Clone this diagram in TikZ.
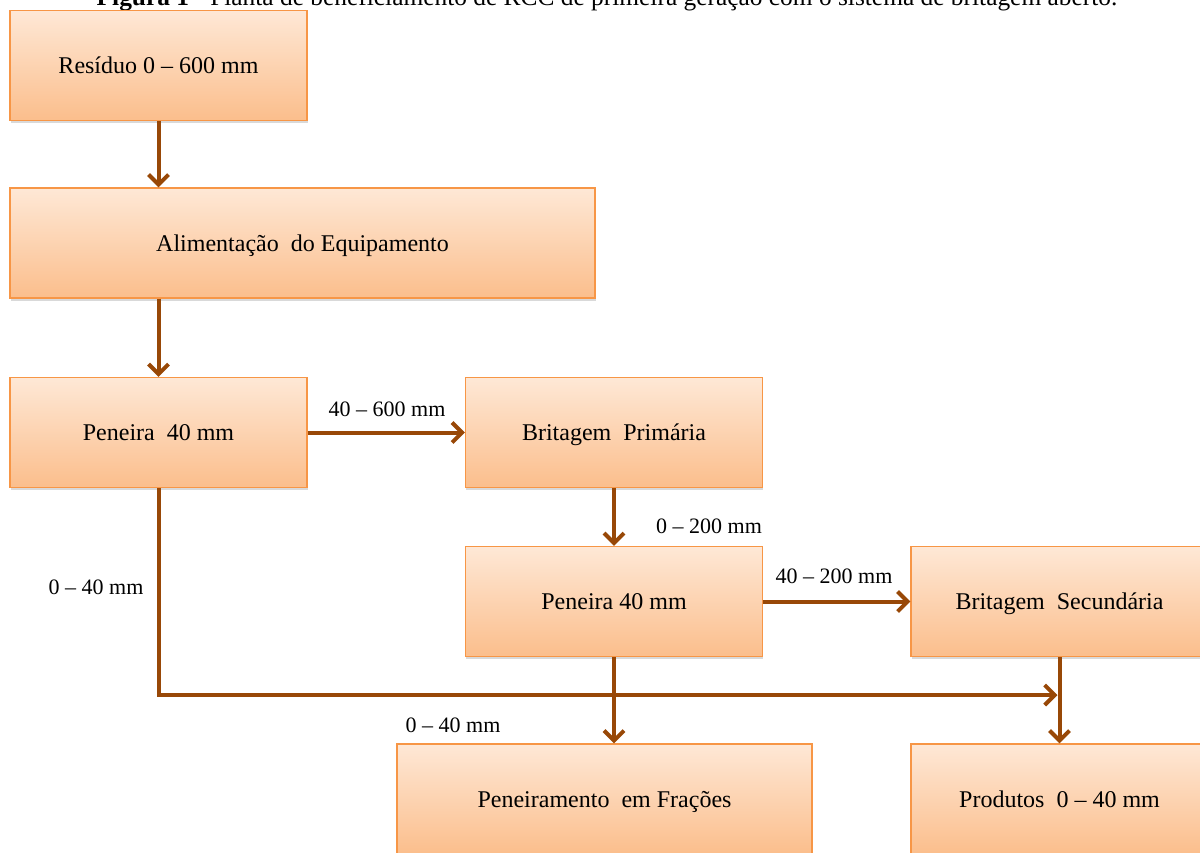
\documentclass[tikz,border=0pt]{standalone}
\usepackage{fontspec}
\setmainfont{Liberation Serif}
\usetikzlibrary{arrows.meta,shadows,calc}
\definecolor{boxline}{RGB}{247,150,70}
\definecolor{boxtop}{RGB}{254,232,214}
\definecolor{boxbot}{RGB}{251,190,140}
\definecolor{arr}{RGB}{152,72,7}
\tikzset{
  flowbox/.style={draw=boxline, line width=0.6pt, top color=boxtop, bottom color=boxbot,
    minimum width=148.5pt, minimum height=55pt, inner sep=0pt,
    text height=9pt, text depth=1pt,
    font=\fontsize{12}{14}\selectfont,
    drop shadow={opacity=0.25, shadow xshift=0.4pt, shadow yshift=-1.4pt, fill=black!60}},
  flowarrow/.style={draw=arr, line width=2pt, -{Straight Barb[length=5pt,width=10pt]}},
  lbl/.style={font=\fontsize{11}{13}\selectfont, inner sep=0pt},
  captxt/.style={font=\fontsize{12.7}{14}\selectfont, inner sep=0pt, anchor=base}
}
\begin{document}
\begin{tikzpicture}[x=0.5pt,y=-0.5pt]
\useasboundingbox (0,0) rectangle (1200,852);
\clip (0,0) rectangle (1200,852);
\node[captxt] (cap) at (607,5) {\textbf{Figura 1} - Planta de beneficiamento de RCC de primeira geração com o sistema de britagem aberto.};
\node[flowbox] (res) at (158.5,65.5) {Resíduo 0 – 600 mm};
\node[flowbox, minimum width=292.5pt] (ali) at (302.5,243) {Alimentação\ \ do Equipamento};
\node[flowbox] (pen1) at (158.5,432.5) {Peneira\ \ 40 mm};
\node[flowbox] (bp) at (614,432.5) {Britagem\ \ Primária};
\node[flowbox] (pen2) at (614,601.5) {Peneira 40 mm};
\node[flowbox] (bs) at (1059.5,601.5) {Britagem\ \ Secundária};
\node[flowbox, minimum width=207.5pt] (pf) at (604.5,799) {Peneiramento\ \ em Frações};
\node[flowbox] (prod) at (1059.5,799) {Produtos\ \ 0 – 40 mm};
\coordinate (j) at (1059.5,695);
\draw[flowarrow] (res.south) -- (res.south |- ali.north);
\draw[flowarrow] (res.south |- ali.south) -- (pen1.north);
\draw[flowarrow] (pen1.east) -- (bp.west);
\draw[flowarrow] (bp.south) -- (pen2.north);
\draw[flowarrow] (pen2.east) -- (bs.west);
\draw[flowarrow] (pen1.south) |- ([xshift=-1pt]j);
\draw[flowarrow] (pen2.south) -- (pen2.south |- pf.north);
\draw[flowarrow] (bs.south) -- (prod.north);
\node[lbl] (l1) at (387,409) {40 – 600 mm};
\node[lbl] (l2) at (709,526) {0 – 200 mm};
\node[lbl] (l3) at (834,576) {40 – 200 mm};
\node[lbl] (l4) at (96,587) {0 – 40 mm};
\node[lbl] (l5) at (453,725) {0 – 40 mm};
\end{tikzpicture}
\end{document}
